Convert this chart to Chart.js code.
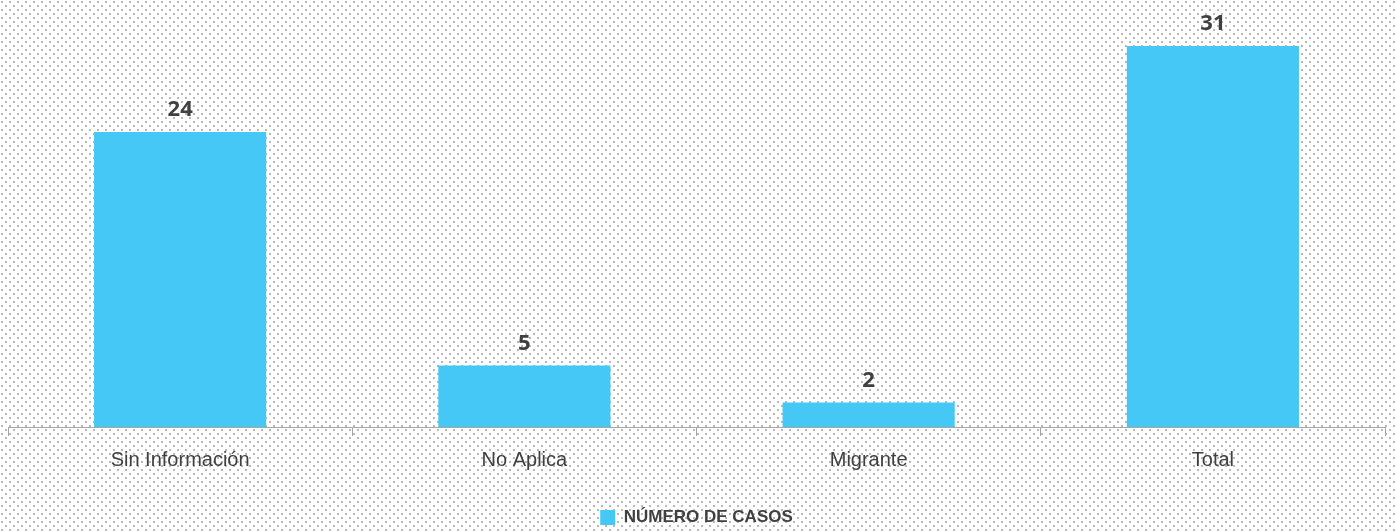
<!DOCTYPE html>
<html>
<head>
<meta charset="utf-8">
<script src="https://cdn.jsdelivr.net/npm/chart.js@4"></script>
<style>
html,body{margin:0;padding:0;background:#fff;}
#wrap{width:1395px;height:531px;position:relative;}
</style>
</head>
<body>
<div id="wrap"><canvas id="c"></canvas></div>
<script>
const categories = ['Sin Información', 'No Aplica', 'Migrante', 'Total'];
const seriesName = 'NÚMERO DE CASOS';
const casos = [24, 5, 2, 31];

const barColor = '#45C8F5';
const textColor = '#404040';
const sans = '"Liberation Sans", Arial, sans-serif';

const dottedBg = {
  id: 'dottedBg',
  beforeDraw(chart) {
    const ctx = chart.ctx;
    const tile = document.createElement('canvas');
    tile.width = 8; tile.height = 8;
    const t = tile.getContext('2d');
    t.fillStyle = '#ffffff';
    t.fillRect(0, 0, 8, 8);
    t.fillStyle = '#b8b8b8';
    t.fillRect(1, 1, 2, 2);
    t.fillRect(5, 5, 2, 2);
    ctx.save();
    ctx.fillStyle = ctx.createPattern(tile, 'repeat');
    ctx.fillRect(0, 0, chart.width, chart.height);
    ctx.restore();
  }
};

const valueLabels = {
  id: 'valueLabels',
  afterDatasetsDraw(chart) {
    const ctx = chart.ctx;
    ctx.save();
    ctx.font = 'bold 22px "Open Sans", sans-serif';
    ctx.fillStyle = textColor;
    ctx.textAlign = 'center';
    ctx.textBaseline = 'bottom';
    chart.data.datasets.forEach((ds, di) => {
      chart.getDatasetMeta(di).data.forEach((bar, i) => {
        ctx.fillText(String(ds.data[i]), bar.x, bar.y - 11);
      });
    });
    ctx.restore();
  }
};

new Chart(document.getElementById('c'), {
  type: 'bar',
  data: {
    labels: categories,
    datasets: [{
      label: seriesName,
      data: casos,
      backgroundColor: barColor,
      borderWidth: 0,
      categoryPercentage: 1.0,
      barPercentage: 0.5
    }]
  },
  options: {
    responsive: true,
    maintainAspectRatio: false,
    animation: false,
    layout: { padding: { left: 8, right: 10, top: 9, bottom: -5 } },
    scales: {
      x: {
        grid: { drawOnChartArea: false, drawTicks: true, tickLength: 9, color: '#a6a6a6', offset: true },
        border: { color: '#a6a6a6', width: 1 },
        ticks: { color: textColor, font: { family: sans, size: 20 }, padding: 12 }
      },
      y: {
        display: false,
        min: 0,
        max: 34
      }
    },
    plugins: {
      legend: {
        position: 'bottom',
        labels: {
          color: textColor,
          boxWidth: 15,
          boxHeight: 15,
          padding: 25,
          font: { family: sans, size: 17, weight: 'bold' }
        }
      },
      tooltip: { enabled: false }
    }
  },
  plugins: [dottedBg, valueLabels]
});
</script>
</body>
</html>
